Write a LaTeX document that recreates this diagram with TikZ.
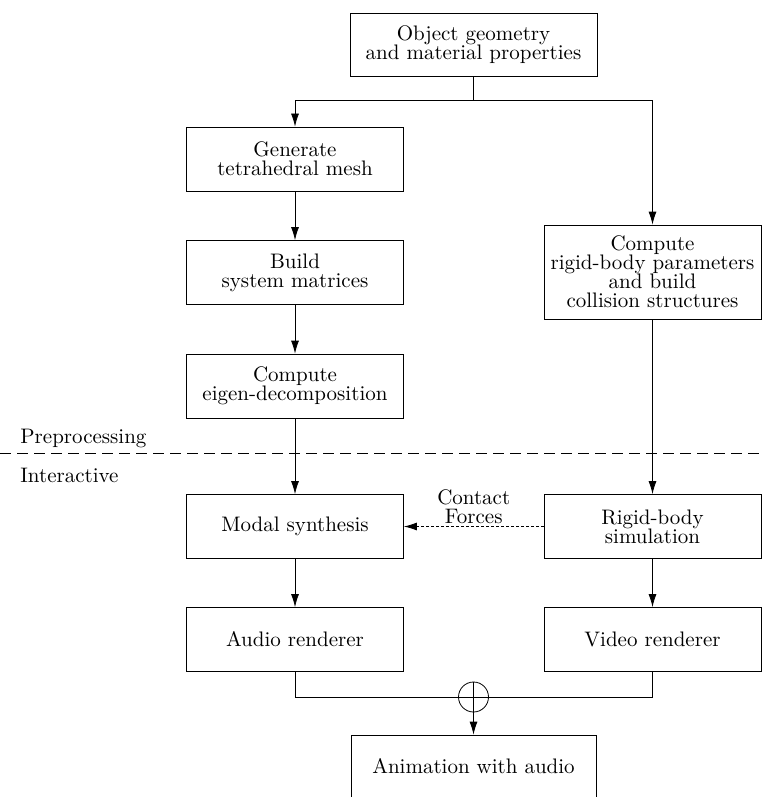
\documentclass[tikz,border=0pt]{standalone}
\usetikzlibrary{arrows.meta}
\tikzset{
    blk/.style={draw, align=center, minimum width=108.5pt, minimum height=32pt, inner sep=2pt, font=\fontsize{10.5}{9.5}\selectfont},
    arr/.style={-{Latex[length=6.5pt,width=4pt]}},
    lbl/.style={font=\fontsize{10.5}{9.5}\selectfont},
}
\begin{document}
\begin{tikzpicture}[x=0.5pt,y=-0.5pt]
    \useasboundingbox (0,0) rectangle (763,797);
    \node[blk, minimum width=123.5pt, minimum height=31.5pt] (obj) at (473.5,44.5) {Object geometry\\and material properties};
    \node[blk] (mesh) at (295,159) {Generate\\tetrahedral mesh};
    \node[blk] (mats) at (295,272.5) {Build\\system matrices};
    \node[blk] (eig) at (295,386) {Compute\\eigen-decomposition};
    \node[blk, minimum height=47pt] (rigid) at (652.5,272) {Compute\\rigid-body parameters\\and build\\collision structures};
    \node[blk] (modal) at (295,526.5) {Modal synthesis};
    \node[blk] (sim) at (652.5,526.5) {Rigid-body\\simulation};
    \node[blk] (audio) at (295,639.5) {Audio renderer};
    \node[blk] (video) at (652.5,639.5) {Video renderer};
    \node[blk, minimum width=122.5pt, minimum height=31pt] (anim) at (473.5,766) {Animation with audio};
    \node[circle, draw, minimum size=15pt, inner sep=0pt] (sum) at (473.5,697) {};
    \coordinate (split) at (473.5,100);
    \draw (obj) -- (split);
    \draw[arr] (split) -| (mesh);
    \draw[arr] (split) -| (rigid);
    \draw[arr] (mesh) -- (mats);
    \draw[arr] (mats) -- (eig);
    \draw[arr] (eig) -- (modal);
    \draw[arr] (rigid) -- (sim);
    \draw[arr] (modal) -- (audio);
    \draw[arr] (sim) -- (video);
    \draw[arr, dash pattern=on 1.5pt off 1pt] (sim) -- (modal)
        node[midway, above, lbl, align=center, inner sep=1pt] (cf) {Contact\\Forces};
    \draw (audio) |- (sum.west);
    \draw (video) |- (sum.east);
    \draw (sum.west) -- (sum.east);
    \draw (sum.north) -- (sum.south);
    \draw[arr] (sum) -- (anim);
    \draw[dash pattern=on 5.5pt off 3pt] (0,453) -- (763,453);
    \node[lbl, anchor=west, inner sep=0pt] (pre) at (20,438) {Preprocessing};
    \node[lbl, anchor=west, inner sep=0pt] (inter) at (20,475) {Interactive};
\end{tikzpicture}
\end{document}
